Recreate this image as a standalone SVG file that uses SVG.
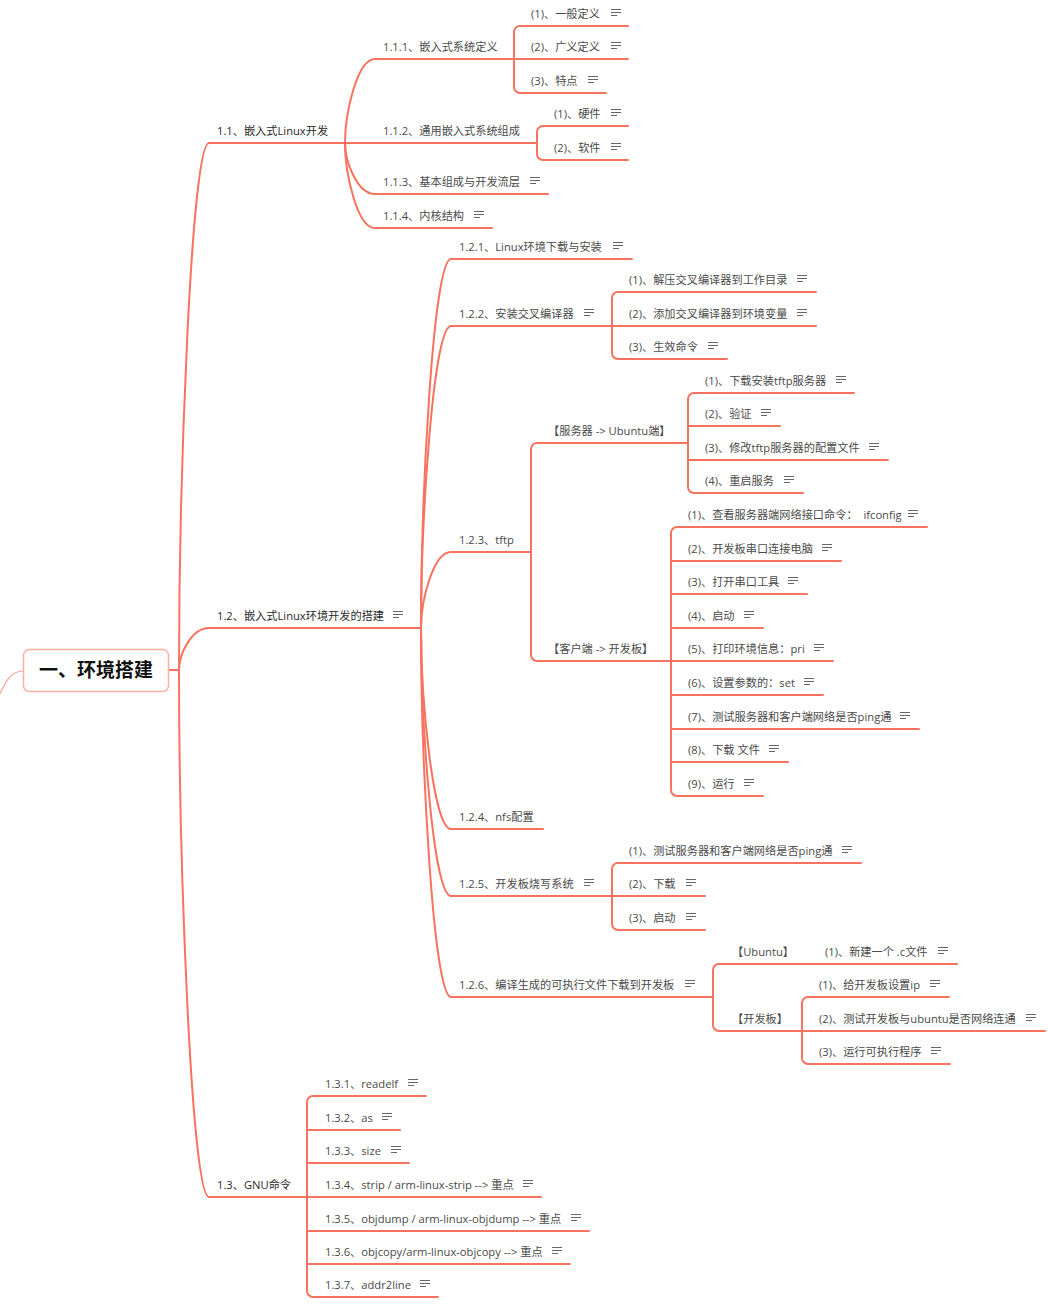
<svg xmlns="http://www.w3.org/2000/svg" xmlns:xlink="http://www.w3.org/1999/xlink" width="1048" height="1309" viewBox="0 0 1048 1309">
<style>
text{font-family:"Open Sans","Noto Sans CJK SC",sans-serif;font-size:11.2px;fill:#4a4a4a}
.l1{fill:#2a2a2a}
.root{font-size:19px;font-weight:bold;fill:#111;text-anchor:middle}
.ul,.c{stroke:#f7735f;stroke-width:2;fill:none;stroke-linecap:round}
.rb{fill:#fff;stroke:#f8b0a3;stroke-width:1.5}
</style>
<defs>
<path id="note" d="M0,0h10M0,3h10M0,6h6" stroke="#666" stroke-width="1.2" fill="none"/>
</defs>
<rect width="1048" height="1309" fill="#fff"/>
<g id="connectors">
<path d="M23,671 C12,671 6,680 0,694" stroke="#f8a99b" stroke-width="1.2" fill="none"/>
<path class="c" d="M168,670 H179"/>
<path class="c" d="M179,670 C179,485.5 191,143 209,143"/>
<path class="c" d="M179,670 C179,655 191,628 209,628"/>
<path class="c" d="M179,670 C179,854.5 191,1197 209,1197"/>
<path class="c" d="M345,143 C345,113.6 357,59 375,59"/>
<path class="c" d="M345,143 C345,160.9 357,194 375,194"/>
<path class="c" d="M345,143 C345,172.8 357,228 375,228"/>
<path class="c" d="M421,628 C421,498.9 433,259 451,259"/>
<path class="c" d="M421,628 C421,522.3 433,326 451,326"/>
<path class="c" d="M421,628 C421,601.4 433,552 451,552"/>
<path class="c" d="M421,628 C421,698.4 433,829 451,829"/>
<path class="c" d="M421,628 C421,721.8 433,896 451,896"/>
<path class="c" d="M421,628 C421,757.2 433,997 451,997"/>
<path class="c" d="M520,26 A6,6 0 0 0 514,32 V87 A6,6 0 0 0 520,93"/>
<path class="c" d="M543,126 A6,6 0 0 0 537,132 V154 A6,6 0 0 0 543,160"/>
<path class="c" d="M618,292 A6,6 0 0 0 612,298 V353 A6,6 0 0 0 618,359"/>
<path class="c" d="M537,443 A6,6 0 0 0 531,449 V655 A6,6 0 0 0 537,661"/>
<path class="c" d="M694,393 A6,6 0 0 0 688,399 V487 A6,6 0 0 0 694,493"/>
<path class="c" d="M677,527 A6,6 0 0 0 671,533 V790 A6,6 0 0 0 677,796"/>
<path class="c" d="M618,863 A6,6 0 0 0 612,869 V924 A6,6 0 0 0 618,930"/>
<path class="c" d="M719,964 A6,6 0 0 0 713,970 V1025 A6,6 0 0 0 719,1031"/>
<path class="c" d="M808,997 A6,6 0 0 0 802,1003 V1058 A6,6 0 0 0 808,1064"/>
<path class="c" d="M313,1096 A6,6 0 0 0 307,1102 V1291 A6,6 0 0 0 313,1297"/>
</g>
<g id="root"><rect class="rb" x="23.5" y="649.5" width="145" height="42" rx="6"/><text class="root" x="96" y="677">一、环境搭建</text></g>

<g id="n1_1"><path class="ul" d="M209,143 H345"/><text class="l1" x="217" y="135">1.1、嵌入式Linux开发</text></g>
<g id="n1_2"><path class="ul" d="M209,628 H421"/><text class="l1" x="217" y="620">1.2、嵌入式Linux环境开发的搭建</text><use href="#note" x="393" y="611.5"/></g>
<g id="n1_3"><path class="ul" d="M209,1197 H307"/><text class="l1" x="217" y="1189">1.3、GNU命令</text></g>

<g id="n1_1_1"><path class="ul" d="M375,59 H514"/><text x="383" y="51">1.1.1、嵌入式系统定义</text></g>
<g id="n1_1_2"><path class="ul" d="M345,143 H537"/><text x="383" y="135">1.1.2、通用嵌入式系统组成</text></g>
<g id="n1_1_3"><path class="ul" d="M375,194 H548"/><text x="383" y="186">1.1.3、基本组成与开发流层</text><use href="#note" x="530" y="177.5"/></g>
<g id="n1_1_4"><path class="ul" d="M375,228 H492"/><text x="383" y="220">1.1.4、内核结构</text><use href="#note" x="474" y="211.5"/></g>

<g id="n1_1_1_1"><path class="ul" d="M520,26 H628"/><text x="531" y="18">(1)、一般定义</text><use href="#note" x="611" y="9.5"/></g>
<g id="n1_1_1_2"><path class="ul" d="M514,59 H628"/><text x="531" y="51">(2)、广义定义</text><use href="#note" x="611" y="42.5"/></g>
<g id="n1_1_1_3"><path class="ul" d="M520,93 H606"/><text x="531" y="85">(3)、特点</text><use href="#note" x="588" y="76.5"/></g>
<g id="n1_1_2_1"><path class="ul" d="M543,126 H628"/><text x="554" y="118">(1)、硬件</text><use href="#note" x="611" y="109.5"/></g>
<g id="n1_1_2_2"><path class="ul" d="M543,160 H628"/><text x="554" y="152">(2)、软件</text><use href="#note" x="611" y="143.5"/></g>

<g id="n1_2_1"><path class="ul" d="M451,259 H632"/><text x="459" y="251">1.2.1、Linux环境下载与安装</text><use href="#note" x="613" y="242.5"/></g>
<g id="n1_2_2"><path class="ul" d="M451,326 H612"/><text x="459" y="318">1.2.2、安装交叉编译器</text><use href="#note" x="584" y="309.5"/></g>
<g id="n1_2_3"><path class="ul" d="M451,552 H531"/><text x="459" y="544">1.2.3、tftp</text></g>
<g id="n1_2_4"><path class="ul" d="M451,829 H543"/><text x="459" y="821">1.2.4、nfs配置</text></g>
<g id="n1_2_5"><path class="ul" d="M451,896 H612"/><text x="459" y="888">1.2.5、开发板烧写系统</text><use href="#note" x="584" y="879.5"/></g>
<g id="n1_2_6"><path class="ul" d="M451,997 H713"/><text x="459" y="989">1.2.6、编译生成的可执行文件下载到开发板</text><use href="#note" x="685" y="980.5"/></g>

<g id="n1_2_2_1"><path class="ul" d="M618,292 H816"/><text x="629" y="284">(1)、解压交叉编译器到工作目录</text><use href="#note" x="797" y="275.5"/></g>
<g id="n1_2_2_2"><path class="ul" d="M612,326 H816"/><text x="629" y="318">(2)、添加交叉编译器到环境变量</text><use href="#note" x="797" y="309.5"/></g>
<g id="n1_2_2_3"><path class="ul" d="M618,359 H727"/><text x="629" y="351">(3)、生效命令</text><use href="#note" x="708" y="342.5"/></g>

<g id="n_server"><path class="ul" d="M537,443 H688"/><text x="548" y="435">【服务器 -&gt; Ubuntu端】</text></g>
<g id="n_client"><path class="ul" d="M537,661 H671"/><text x="548" y="653">【客户端 -&gt; 开发板】</text></g>

<g id="n_s1"><path class="ul" d="M694,393 H854"/><text x="705" y="385">(1)、下载安装tftp服务器</text><use href="#note" x="836" y="376.5"/></g>
<g id="n_s2"><path class="ul" d="M688,426 H780"/><text x="705" y="418">(2)、验证</text><use href="#note" x="761" y="409.5"/></g>
<g id="n_s3"><path class="ul" d="M688,460 H888"/><text x="705" y="452">(3)、修改tftp服务器的配置文件</text><use href="#note" x="869" y="443.5"/></g>
<g id="n_s4"><path class="ul" d="M694,493 H803"/><text x="705" y="485">(4)、重启服务</text><use href="#note" x="784" y="476.5"/></g>

<g id="n_c1"><path class="ul" d="M677,527 H927"/><text x="688" y="519" xml:space="preserve">(1)、查看服务器端网络接口命令：  ifconfig</text><use href="#note" x="908" y="510.5"/></g>
<g id="n_c2"><path class="ul" d="M671,561 H841"/><text x="688" y="553">(2)、开发板串口连接电脑</text><use href="#note" x="822" y="544.5"/></g>
<g id="n_c3"><path class="ul" d="M671,594 H807"/><text x="688" y="586">(3)、打开串口工具</text><use href="#note" x="788" y="577.5"/></g>
<g id="n_c4"><path class="ul" d="M671,628 H763"/><text x="688" y="620">(4)、启动</text><use href="#note" x="744" y="611.5"/></g>
<g id="n_c5"><path class="ul" d="M671,661 H833"/><text x="688" y="653">(5)、打印环境信息：pri</text><use href="#note" x="814" y="644.5"/></g>
<g id="n_c6"><path class="ul" d="M671,695 H823"/><text x="688" y="687">(6)、设置参数的：set</text><use href="#note" x="804" y="678.5"/></g>
<g id="n_c7"><path class="ul" d="M671,729 H919"/><text x="688" y="721">(7)、测试服务器和客户端网络是否ping通</text><use href="#note" x="900" y="712.5"/></g>
<g id="n_c8"><path class="ul" d="M671,762 H788"/><text x="688" y="754">(8)、下载 文件</text><use href="#note" x="769" y="745.5"/></g>
<g id="n_c9"><path class="ul" d="M677,796 H763"/><text x="688" y="788">(9)、运行</text><use href="#note" x="744" y="779.5"/></g>

<g id="n1_2_5_1"><path class="ul" d="M618,863 H861"/><text x="629" y="855">(1)、测试服务器和客户端网络是否ping通</text><use href="#note" x="842" y="846.5"/></g>
<g id="n1_2_5_2"><path class="ul" d="M612,896 H705"/><text x="629" y="888">(2)、下载</text><use href="#note" x="686" y="879.5"/></g>
<g id="n1_2_5_3"><path class="ul" d="M618,930 H705"/><text x="629" y="922">(3)、启动</text><use href="#note" x="686" y="913.5"/></g>

<g id="n_ubuntu"><path class="ul" d="M719,964 H808"/><text x="732" y="956">【Ubuntu】</text></g>
<g id="n_ubuntu_1"><path class="ul" d="M808,964 H957"/><text x="825" y="956">(1)、新建一个 .c文件</text><use href="#note" x="938" y="947.5"/></g>
<g id="n_board"><path class="ul" d="M719,1031 H802"/><text x="732" y="1023">【开发板】</text></g>
<g id="n_board_1"><path class="ul" d="M808,997 H949"/><text x="819" y="989">(1)、给开发板设置ip</text><use href="#note" x="930" y="980.5"/></g>
<g id="n_board_2"><path class="ul" d="M802,1031 H1045"/><text x="819" y="1023">(2)、测试开发板与ubuntu是否网络连通</text><use href="#note" x="1026" y="1014.5"/></g>
<g id="n_board_3"><path class="ul" d="M808,1064 H950"/><text x="819" y="1056">(3)、运行可执行程序</text><use href="#note" x="931" y="1047.5"/></g>

<g id="n1_3_1"><path class="ul" d="M313,1096 H426"/><text x="325" y="1088">1.3.1、readelf</text><use href="#note" x="408" y="1079.5"/></g>
<g id="n1_3_2"><path class="ul" d="M307,1130 H400"/><text x="325" y="1122">1.3.2、as</text><use href="#note" x="382" y="1113.5"/></g>
<g id="n1_3_3"><path class="ul" d="M307,1163 H409"/><text x="325" y="1155">1.3.3、size</text><use href="#note" x="391" y="1146.5"/></g>
<g id="n1_3_4"><path class="ul" d="M307,1197 H541"/><text x="325" y="1189">1.3.4、strip / arm-linux-strip --&gt; 重点</text><use href="#note" x="523" y="1180.5"/></g>
<g id="n1_3_5"><path class="ul" d="M307,1231 H589"/><text x="325" y="1223">1.3.5、objdump / arm-linux-objdump --&gt; 重点</text><use href="#note" x="571" y="1214.5"/></g>
<g id="n1_3_6"><path class="ul" d="M307,1264 H570"/><text x="325" y="1256">1.3.6、objcopy/arm-linux-objcopy --&gt; 重点</text><use href="#note" x="552" y="1247.5"/></g>
<g id="n1_3_7"><path class="ul" d="M313,1297 H438"/><text x="325" y="1289">1.3.7、addr2line</text><use href="#note" x="420" y="1280.5"/></g>
</svg>
